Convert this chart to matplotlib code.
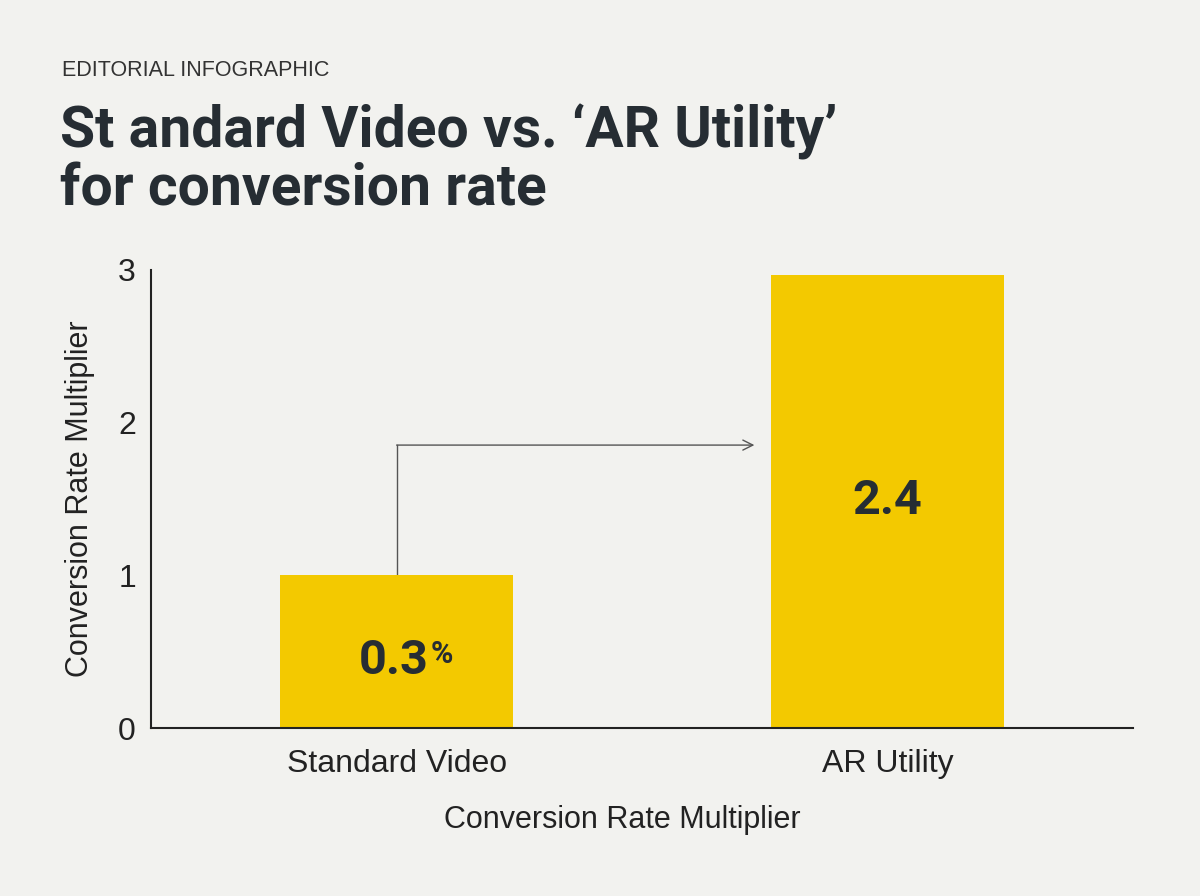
import matplotlib.pyplot as plt

# data
categories = ["Standard Video", "AR Utility"]
values = [1.0, 2.97]
value_labels = ["0.3", "2.4"]
value_suffix = ["%", ""]
label_y = [0.44, 1.49]
connector_y = 1.853
connector_end_x = 0.729
yticks = [0, 1, 2, 3]
title_lines = ["St andard Video vs. \u2018AR Utility\u2019", "for conversion rate"]

bg = "#f2f2ef"
bar_color = "#f3c900"
ink = "#262d33"

plt.rcParams['font.family'] = ['Liberation Sans', 'DejaVu Sans']

fig = plt.figure(figsize=(12, 8.96), dpi=100, facecolor=bg)
ax = fig.add_axes([0.126, 0.1875, 0.818, 0.5112])
ax.set_facecolor(bg)

x = range(len(categories))
ax.bar(x, values, width=0.474, color=bar_color, zorder=2)

ax.set_xlim(-0.5, 1.5)
ax.set_ylim(0, 3)
ax.set_yticks(yticks)
ax.set_xticks(list(x))
ax.set_xticklabels(categories)
ax.tick_params(axis='both', length=0, labelsize=23, colors="#222222")
ax.tick_params(axis='y', pad=11)
ax.tick_params(axis='x', pad=15)
for s in ["top", "right"]:
    ax.spines[s].set_visible(False)
for s in ["left", "bottom"]:
    ax.spines[s].set_color("#222222")
    ax.spines[s].set_linewidth(1.5)

ax.set_ylabel("Conversion Rate Multiplier", fontsize=22, color="#222222")
ax.set_xlabel("Conversion Rate Multiplier", fontsize=22, color="#222222")
ax.yaxis.set_label_coords(-0.057, 0.5)
ax.xaxis.set_label_coords(0.48, -0.168)

# value labels
for i, (lab, suf, ly) in enumerate(zip(value_labels, value_suffix, label_y)):
    t = ax.text(i, ly, lab, ha='center', va='center', fontsize=35,
                fontweight='bold', color=ink, zorder=3,
                family=['Roboto', 'DejaVu Sans'])
    if suf:
        t.set_position((i - 0.005, ly))
        ax.annotate(suf, xy=(1, 1), xycoords=t, xytext=(1, -1),
                    textcoords='offset points', ha='left', va='top',
                    fontsize=22, fontweight='bold', color=ink,
                    family=['Roboto', 'DejaVu Sans'], zorder=3)

# connector
ax.plot([0, 0], [values[0], connector_y], color="#555555", lw=1, zorder=1)
ax.annotate("", xy=(connector_end_x, connector_y), xytext=(0, connector_y),
            arrowprops=dict(arrowstyle='->', color="#555555", lw=1,
                            shrinkA=0, shrinkB=0, mutation_scale=18))

# header
fig.text(62 / 1200, 1 - 70 / 896, "EDITORIAL INFOGRAPHIC", fontsize=15.5,
         color="#333333", va='center', ha='left')
tt = []
for line, base in zip(title_lines, [147, 205]):
    tt.append(fig.text(60 / 1200, 1 - base / 896, line, fontsize=45,
                       fontweight='bold', color=ink, va='baseline', ha='left',
                       family=['Roboto', 'DejaVu Sans']))

# fit title width to the first line's width in the reference
fig.canvas.draw()
w = tt[0].get_window_extent().width
size = 45 * 778 / w
for t in tt:
    t.set_fontsize(size)

fig.savefig("out.png", dpi=100, facecolor=bg)
